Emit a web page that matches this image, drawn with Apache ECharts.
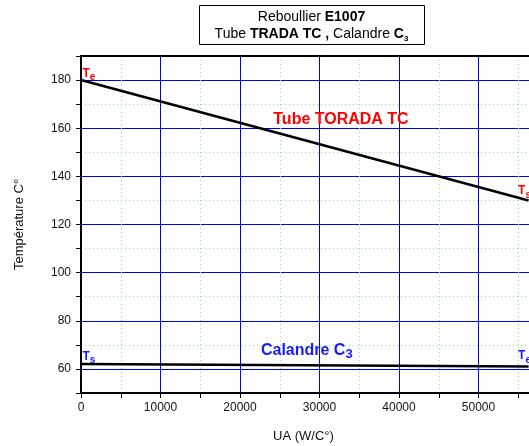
<!DOCTYPE html>
<html>
<head>
<meta charset="utf-8">
<script src="https://cdn.jsdelivr.net/npm/echarts@6/dist/echarts.min.js"></script>
<style>
  html, body { margin: 0; padding: 0; background: #fff; }
  #chart { width: 529px; height: 446px; }
</style>
</head>
<body>
<div id="chart"></div>
<script>
// Tube side (TRADA TC) temperature profile along UA
const uaTube = [0, 56300];
const tempTube = [180, 130];
// Shell side (Calandre C3) temperature profile along UA
const uaShell = [0, 56300];
const tempShell = [62, 61];
// Subscripts of the end labels (e = entrée, s = sortie)
const tubeEnds = ['e', 's'];
const shellEnds = ['s', 'e'];
// Axis ranges and tick steps
const xMin = 0, xMax = 60000, xStep = 5000, xLabelStep = 10000;
const yMin = 50, yMax = 190, yStep = 10, yLabelStep = 20;

const FONT = 'Liberation Sans, Arial, Helvetica, sans-serif';
const RED = '#ff0000';
const BLUE = '#1a1aff';
const MAJOR = '#0000ff';
const MINOR = '#77ee77';

function endRich(color) {
  return {
    t: { fontFamily: FONT, fontSize: 12, fontWeight: 'bold', color: color },
    sub: { fontFamily: FONT, fontSize: 10, fontWeight: 'bold', color: color, padding: [8, 0, 0, 0] }
  };
}

function endPoints(xs, ys, subs, color, offsets) {
  return xs.map((x, i) => ({
    value: [x, ys[i]],
    label: {
      show: true,
      position: offsets[i],
      formatter: '{t|T}{sub|' + subs[i] + '}',
      rich: endRich(color)
    }
  }));
}

const chart = echarts.init(document.getElementById('chart'), null, { renderer: 'canvas' });

const option = {
  animation: false,
  backgroundColor: '#fff',
  textStyle: { fontFamily: FONT },
  grid: { left: 81, right: -29, top: 56, bottom: 53, containLabel: false, outerBoundsMode: 'none' },
  xAxis: [
    {
      type: 'value', position: 'bottom',
      min: xMin, max: xMax, interval: xStep,
      name: 'UA (W/C°)', nameLocation: 'middle', nameGap: 37,
      nameTextStyle: { fontFamily: FONT, fontSize: 13, color: '#111', padding: [0, 32, 0, 0] },
      axisLine: { lineStyle: { color: '#000', width: 2 } },
      axisTick: { show: true, length: 5, lineStyle: { color: '#000', width: 1 } },
      axisLabel: {
        fontFamily: FONT, fontSize: 12, color: '#111', margin: 9,
        formatter: v => (v % xLabelStep === 0 ? String(v) : '')
      },
      splitLine: { show: true, lineStyle: { color: [MAJOR, 'transparent'], width: 1 } }
    },
    {
      type: 'value', position: 'top',
      min: xMin, max: xMax, interval: xStep,
      axisLine: { show: true, lineStyle: { color: '#000', width: 2 } },
      axisTick: { show: false },
      axisLabel: { show: false },
      splitLine: { show: true, lineStyle: { color: ['transparent', MINOR], width: 1, type: [1, 3] } }
    }
  ],
  yAxis: [
    {
      type: 'value', position: 'left',
      min: yMin, max: yMax, interval: yStep,
      name: 'Température C°', nameLocation: 'middle', nameGap: 55,
      nameTextStyle: { fontFamily: FONT, fontSize: 13, color: '#111' },
      axisLine: { show: true, lineStyle: { color: '#000', width: 2 } },
      axisTick: { show: true, length: 5, lineStyle: { color: '#000', width: 1 } },
      axisLabel: {
        fontFamily: FONT, fontSize: 12, color: '#111', margin: 10,
        formatter: v => (v % yLabelStep === 0 ? String(v) : '')
      },
      splitLine: { show: true, lineStyle: { color: ['transparent', MAJOR], width: 1 } }
    },
    {
      type: 'value', position: 'right',
      min: yMin, max: yMax, interval: yStep,
      axisLine: { show: false },
      axisTick: { show: false },
      axisLabel: { show: false },
      splitLine: { show: true, lineStyle: { color: [MINOR, 'transparent'], width: 1, type: [1, 3] } }
    }
  ],
  graphic: [
    {
      type: 'rect', z: 100,
      shape: { x: 199.5, y: 5.5, width: 225, height: 39 },
      style: { fill: '#fff', stroke: '#000', lineWidth: 1 }
    },
    {
      type: 'text', z: 101, x: 311.5, y: 9,
      style: {
        text: '{r|Reboullier }{b|E1007}\n{r|Tube }{b|TRADA TC ,}{r| Calandre }{b|C}{s|3}',
        align: 'center', verticalAlign: 'top',
        rich: {
          r: { fontFamily: FONT, fontSize: 14, color: '#000', lineHeight: 17 },
          b: { fontFamily: FONT, fontSize: 14, fontWeight: 'bold', color: '#000', lineHeight: 17 },
          s: { fontFamily: FONT, fontSize: 8, fontWeight: 'bold', color: '#000', lineHeight: 17, padding: [8, 0, 0, 0] }
        }
      }
    }
  ],
  series: [
    {
      name: 'Tube TORADA TC',
      type: 'line', xAxisIndex: 0, yAxisIndex: 0,
      symbol: 'circle', symbolSize: 1,
      itemStyle: { color: 'transparent' },
      lineStyle: { color: '#000', width: 2.5 },
      data: endPoints(uaTube, tempTube, tubeEnds, RED, [[2, -15], [-10, -18]]),
      markPoint: {
        symbol: 'circle', symbolSize: 0,
        label: {
          show: true, position: 'inside',
          fontFamily: FONT, fontSize: 16, fontWeight: 'bold', color: RED,
          formatter: 'Tube TORADA TC'
        },
        data: [{ coord: [32700, 163.5] }]
      },
      z: 5
    },
    {
      name: 'Calandre C3',
      type: 'line', xAxisIndex: 0, yAxisIndex: 0,
      symbol: 'circle', symbolSize: 1,
      itemStyle: { color: 'transparent' },
      lineStyle: { color: '#000', width: 2.5 },
      data: endPoints(uaShell, tempShell, shellEnds, BLUE, [[2, -16], [-10, -19]]),
      markPoint: {
        symbol: 'circle', symbolSize: 0,
        label: {
          show: true, position: 'inside',
          formatter: '{m|Calandre C}{s|3}',
          rich: {
            m: { fontFamily: FONT, fontSize: 16, fontWeight: 'bold', color: BLUE },
            s: { fontFamily: FONT, fontSize: 13, fontWeight: 'bold', color: BLUE, padding: [8, 0, 0, 0] }
          }
        },
        data: [{ coord: [28400, 67.5] }]
      },
      z: 5
    }
  ]
};

chart.setOption(option);
</script>
</body>
</html>
